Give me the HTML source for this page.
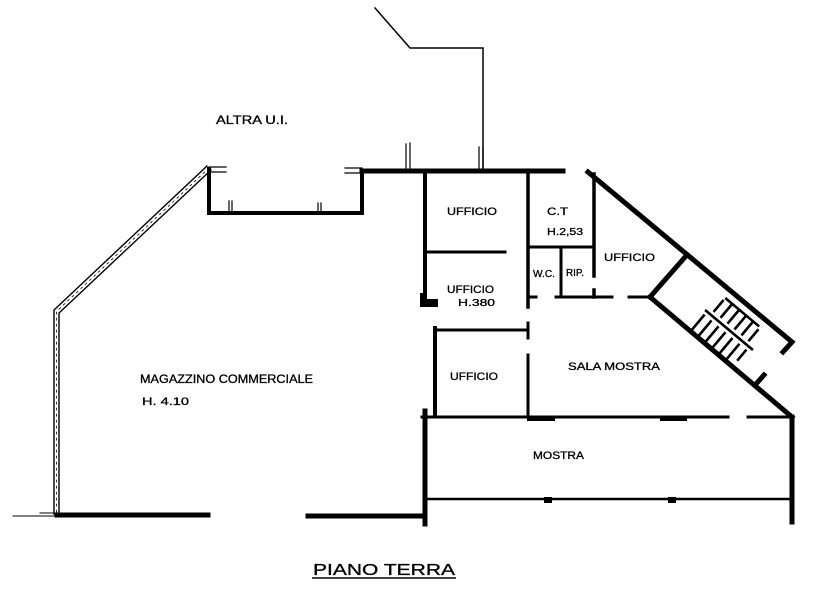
<!DOCTYPE html>
<html><head><meta charset="utf-8"><style>
html,body{margin:0;padding:0;background:#fff;}
svg{display:block;}
text{font-family:"Liberation Sans",sans-serif;fill:#000;stroke:#000;stroke-width:0.3;}
</style></head><body>
<svg width="816" height="602" viewBox="0 0 816 602" xmlns="http://www.w3.org/2000/svg">
<rect width="816" height="602" fill="#fff"/>
<g stroke="#000" fill="none" stroke-linecap="square">
<!-- ALTRA U.I. boundary -->
<path d="M375 8 L410 48 H483 V171" stroke-width="1.5"/>
<path d="M406 144 V171 M410 143 V171" stroke-width="1.2"/>
<path d="M479 147 V171 M483 147 V171" stroke-width="1.2"/>
<!-- top wall -->
<path d="M362 171 H563" stroke-width="5"/>
<path d="M345 168 H362 M345 173 H362" stroke-width="1.2"/>
<!-- niche -->
<path d="M362 171 V213 H209 V169" stroke-width="4"/>
<path d="M209 167 H226 M209 172 H226" stroke-width="1.2"/>
<path d="M229 201 V213 M232 201 V213 M318 203 V213 M321 203 V213" stroke-width="1.2"/>
<!-- left double diagonal + vertical -->
<path d="M207 166 L54 310 V514" stroke-width="1.4"/>
<path d="M211 170 L59 313 V514" stroke-width="1.4"/>
<path d="M209 168 L56.5 311.5 V514" stroke-width="0.8" stroke-dasharray="2 4"/>
<path d="M13 516 H57 M40 513 H56" stroke-width="1"/>
<!-- bottom walls -->
<path d="M57 515 H208" stroke-width="5"/>
<path d="M308 516 H423" stroke-width="5"/>
<!-- office walls -->
<path d="M425 171 V296" stroke-width="4"/>
<path d="M425 252 H505" stroke-width="3"/>
<path d="M528 171 V307" stroke-width="3.5"/>
<path d="M528 247 H594" stroke-width="3"/>
<path d="M594 174 V276 M594 290 V297" stroke-width="3.5"/>
<path d="M561 247 V297" stroke-width="3"/>
<path d="M528 297 H536 M556 297 H612 M629 297 H650" stroke-width="3"/>
<!-- outer diagonal -->
<path d="M588 172 L792 342 L783 352" stroke-width="5"/>
<!-- stair enclosure -->
<path d="M650 297 L686 256" stroke-width="5"/>
<path d="M650 297 L792 417" stroke-width="5"/>
<path d="M756 384 L764 375" stroke-width="5"/>
<!-- sala mostra / ufficio lower -->
<path d="M435 328 V416" stroke-width="4"/>
<path d="M435 330 H528" stroke-width="3"/>
<path d="M528 323 V338 M528 355 V417" stroke-width="3"/>
<path d="M422 417 H728 M748 417 H792" stroke-width="3"/>
<!-- mostra -->
<path d="M425 411 V524" stroke-width="5"/>
<path d="M792 417 V522" stroke-width="5"/>
<path d="M427 499 H790" stroke-width="2.5"/>
</g>
<g fill="#000">
<rect x="420" y="293" width="7" height="13"/>
<rect x="420" y="299" width="18" height="8"/>
<rect x="527" y="417" width="28" height="4"/>
<rect x="660" y="417" width="27" height="4"/>
<rect x="544" y="497" width="8" height="6"/>
<rect x="668" y="497" width="8" height="6"/>
</g>
<!-- stairs -->
<g transform="translate(729,330) rotate(40) scale(1.3)" stroke="#000" fill="none" stroke-width="2">
<path d="M-24 0 H24"/>
<path d="M-18 -3 V-15 M-11 -3 V-17 M-4 -3 V-17 M3 -3 V-17 M10 -3 V-17 M17 -3 V-15"/>
<path d="M-18 -17 L16 -17"/>
<path d="M-22 3 V19 M-15 3 V19 M-8 3 V19 M-1 3 V19 M6 3 V19 M13 3 V19 M20 3 V14"/>
<path d="M-22 19 H13"/>
</g>
<!-- labels -->
<text x="216" y="124" font-size="12" textLength="72" lengthAdjust="spacingAndGlyphs">ALTRA U.I.</text>
<text x="447" y="215" font-size="11" textLength="50" lengthAdjust="spacingAndGlyphs">UFFICIO</text>
<text x="547" y="215" font-size="11" textLength="21" lengthAdjust="spacingAndGlyphs">C.T</text>
<text x="547" y="235" font-size="10" textLength="36" lengthAdjust="spacingAndGlyphs">H.2,53</text>
<text x="604" y="261" font-size="11" textLength="51" lengthAdjust="spacingAndGlyphs">UFFICIO</text>
<text x="533" y="277" font-size="10" textLength="22" lengthAdjust="spacingAndGlyphs">W.C.</text>
<text x="566" y="276" font-size="10" textLength="18" lengthAdjust="spacingAndGlyphs">RIP.</text>
<text x="447" y="293" font-size="11" textLength="47" lengthAdjust="spacingAndGlyphs">UFFICIO</text>
<text x="458" y="306" font-size="10" textLength="37" lengthAdjust="spacingAndGlyphs">H.380</text>
<text x="450" y="380" font-size="11" textLength="48" lengthAdjust="spacingAndGlyphs">UFFICIO</text>
<text x="568" y="370" font-size="11" textLength="92" lengthAdjust="spacingAndGlyphs">SALA MOSTRA</text>
<text x="533" y="459" font-size="11" textLength="51" lengthAdjust="spacingAndGlyphs">MOSTRA</text>
<text x="140" y="383" font-size="11.5" textLength="173" lengthAdjust="spacingAndGlyphs">MAGAZZINO COMMERCIALE</text>
<text x="142" y="405" font-size="11" textLength="47" lengthAdjust="spacingAndGlyphs">H. 4.10</text>
<text x="313" y="575" font-size="16" stroke-width="0.6" textLength="142" lengthAdjust="spacingAndGlyphs">PIANO TERRA</text>
<path d="M312 578 H456" stroke="#000" stroke-width="1.5"/>
</svg>
</body></html>
